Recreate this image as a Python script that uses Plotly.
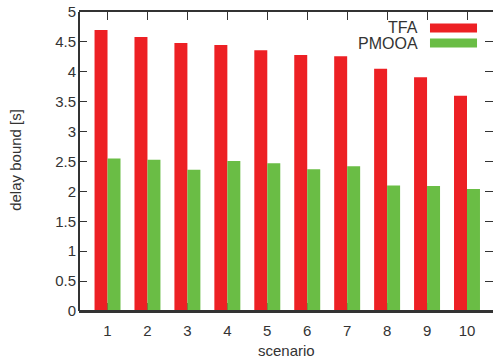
import plotly.graph_objects as go

# Delay bounds per scenario for the two analysis methods
scenarios = [1, 2, 3, 4, 5, 6, 7, 8, 9, 10]
tfa = [4.70, 4.58, 4.48, 4.45, 4.36, 4.28, 4.26, 4.05, 3.91, 3.60]
pmooa = [2.55, 2.53, 2.36, 2.51, 2.47, 2.37, 2.42, 2.10, 2.09, 2.04]
y_ticks = [0, 0.5, 1, 1.5, 2, 2.5, 3, 3.5, 4, 4.5, 5]

RED = "#ED2024"
GREEN = "#6ABD45"
AXIS = "#333333"
FONT = "Liberation Sans, Arial, Helvetica, sans-serif"

fig = go.Figure()
fig.add_trace(go.Bar(x=scenarios, y=tfa, name="TFA", marker=dict(color=RED, line=dict(width=0))))
fig.add_trace(go.Bar(x=scenarios, y=pmooa, name="PMOOA", marker=dict(color=GREEN, line=dict(width=0))))

fig.update_layout(
    width=493,
    height=361,
    margin=dict(l=79, r=0, t=12, b=50),
    paper_bgcolor="white",
    plot_bgcolor="white",
    barmode="group",
    bargap=0.35,
    bargroupgap=0,
    showlegend=False,
    font=dict(family=FONT, color=AXIS, size=15),
    xaxis=dict(
        range=[0.286, 10.651],
        tickvals=scenarios,
        ticktext=[str(s) for s in scenarios],
        ticks="inside",
        ticklen=8,
        tickwidth=1,
        tickcolor=AXIS,
        showline=True,
        linecolor=AXIS,
        linewidth=1.5,
        mirror="ticks",
        layer="below traces",
        showgrid=False,
        zeroline=False,
        ticklabelstandoff=5,
        tickfont=dict(size=15, color=AXIS),
    ),
    yaxis=dict(
        range=[0, 5],
        tickvals=y_ticks,
        ticktext=[f"{v:g}" for v in y_ticks],
        ticks="inside",
        ticklen=8,
        tickwidth=1,
        tickcolor=AXIS,
        showline=False,
        mirror="ticks",
        showgrid=False,
        zeroline=False,
        ticklabelstandoff=2,
        tickfont=dict(size=15, color=AXIS),
    ),
)

# Left and bottom frame lines drawn above the bars
fig.add_shape(type="line", xref="paper", yref="paper", x0=0, x1=0, y0=0, y1=1,
              line=dict(color=AXIS, width=2))
fig.add_shape(type="line", xref="paper", yref="paper", x0=0, x1=1, y0=0, y1=0,
              line=dict(color=AXIS, width=2))

# Axis titles
fig.add_annotation(text="scenario", xref="paper", yref="paper", x=0.5, y=-0.132,
                   xanchor="center", yanchor="middle", showarrow=False,
                   font=dict(size=15, color=AXIS, family=FONT))
fig.add_annotation(text="delay bound [s]", xref="paper", yref="paper", x=-0.155, y=0.505,
                   textangle=-90, xanchor="center", yanchor="middle", showarrow=False,
                   font=dict(size=15, color=AXIS, family=FONT))

# Key in the top-right corner: label right-aligned, colour sample to its right
key = [("TFA", RED, 0.9465), ("PMOOA", GREEN, 0.8963)]
for label, color, yc in key:
    fig.add_annotation(text=label, xref="paper", yref="paper", x=0.8237, y=yc,
                       xanchor="right", yanchor="middle", showarrow=False,
                       font=dict(size=16, color=AXIS, family=FONT))
    fig.add_shape(type="rect", xref="paper", yref="paper",
                  x0=0.8478, x1=0.9614, y0=yc - 0.015, y1=yc + 0.015,
                  fillcolor=color, line=dict(width=0))

fig.write_html("out.html")
